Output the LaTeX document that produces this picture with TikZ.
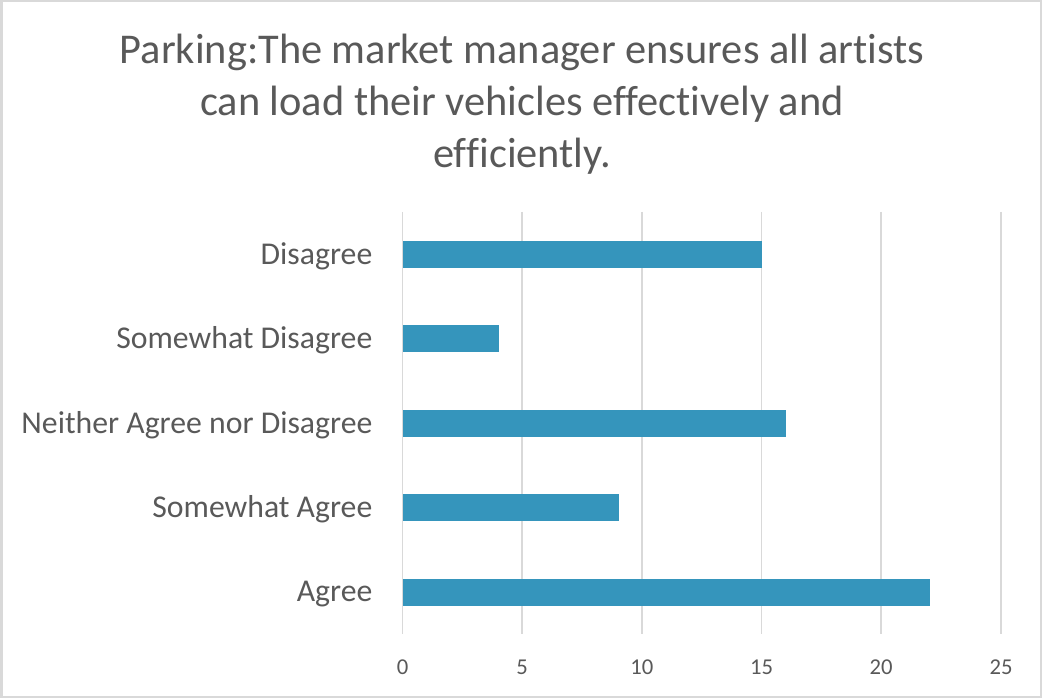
\documentclass[tikz,border=0pt]{standalone}
\usepackage{fontspec}
\setmainfont{Carlito}[Ligatures={NoCommon}]
\definecolor{barblue}{RGB}{53,149,188}
\definecolor{gridgray}{RGB}{217,217,217}
\definecolor{textgray}{RGB}{89,89,89}

\begin{document}
\begin{tikzpicture}[x=0.75pt,y=-0.75pt,
    catlabel/.style={anchor=east, text=textgray, font=\fontsize{23.8}{28}\selectfont},
    ticklabel/.style={text=textgray, font=\fontsize{17}{20}\selectfont}]
        \useasboundingbox (0,0) rectangle (1042,698);

        % Chart frame
        \draw[gridgray, line width=1.5pt] (1.5,1.5) rectangle (1040.5,696.5);

        % Title
        \node[align=center, text=textgray, font=\fontsize{31.8}{39}\selectfont] (title) at (522,104)
            {Parking:The market manager ensures all artists\\can load their vehicles effectively and\\efficiently.};

        % Vertical gridlines
        \draw[gridgray, line width=1.2pt] (402.5,212) -- (402.5,634); % 0
        \draw[gridgray, line width=1.2pt] (522,212) -- (522,634);     % 5
        \draw[gridgray, line width=1.2pt] (641.8,212) -- (641.8,634); % 10
        \draw[gridgray, line width=1.2pt] (761.5,212) -- (761.5,634); % 15
        \draw[gridgray, line width=1.2pt] (881,212) -- (881,634);     % 20
        \draw[gridgray, line width=1.2pt] (1001,212) -- (1001,634);   % 25

        % Bars
        \filldraw[barblue] (403,241) rectangle (761.5,267); % Disagree: 15
        \filldraw[barblue] (403,325) rectangle (498.2,351); % Somewhat Disagree: 4
        \filldraw[barblue] (403,410) rectangle (785.4,436); % Neither: 16
        \filldraw[barblue] (403,494) rectangle (617.9,520); % Somewhat Agree: 9
        \filldraw[barblue] (403,579) rectangle (929,605);   % Agree: 22

        % Category labels
        \node[catlabel] (disagree) at (377,256) {Disagree};
        \node[catlabel] (swdisagree) at (377,340) {Somewhat Disagree};
        \node[catlabel] (neither) at (377,425) {Neither Agree nor Disagree};
        \node[catlabel] (swagree) at (377,509) {Somewhat Agree};
        \node[catlabel] (agree) at (377,594) {Agree};

        % Value axis labels
        \node[ticklabel] (t0) at (402.5,667) {0};
        \node[ticklabel] (t5) at (522,667) {5};
        \node[ticklabel] (t10) at (641.8,667) {10};
        \node[ticklabel] (t15) at (761.5,667) {15};
        \node[ticklabel] (t20) at (881,667) {20};
        \node[ticklabel] (t25) at (1001,667) {25};

\end{tikzpicture}
\end{document}
